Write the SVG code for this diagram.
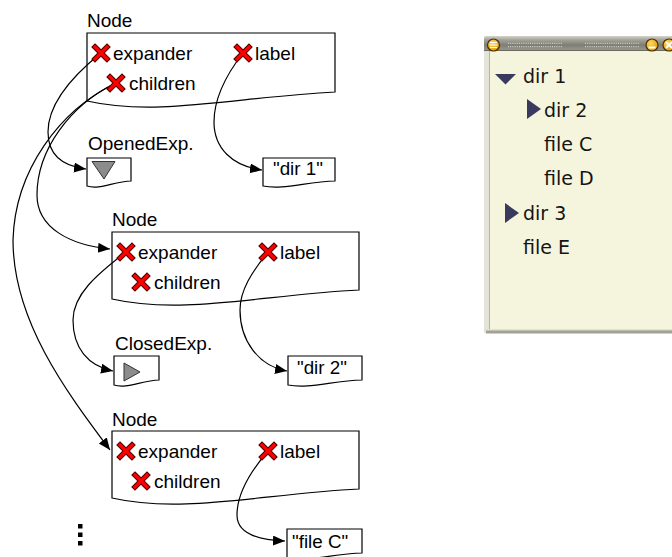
<svg xmlns="http://www.w3.org/2000/svg" width="672" height="557" viewBox="0 0 672 557">
<defs>
<style>
.t{font-family:"Liberation Sans",Arial,sans-serif;font-size:19px;fill:#000}
.q{font-family:"Liberation Sans",Arial,sans-serif;font-size:18.8px;fill:#000}
.box{fill:none;stroke:#000;stroke-width:1.2}
.c{fill:none;stroke:#000;stroke-width:1.2;marker-end:url(#arr)}
.tri{fill:#8c8c8c;stroke:#333;stroke-width:1}
.w{font-family:"DejaVu Sans",sans-serif;font-size:19px;fill:#151515}
.exp{fill:#3a3a5e}
.grip{stroke:#cfcfc6;stroke-width:1.2;stroke-dasharray:1 1.2}
.btn{stroke:#4a3000;stroke-width:1.2}
</style>
<linearGradient id="tb" x1="0" y1="0" x2="0" y2="1">
<stop offset="0" stop-color="#d4d4cc"/>
<stop offset="0.25" stop-color="#a4a49a"/>
<stop offset="0.6" stop-color="#7e7e74"/>
<stop offset="1" stop-color="#9a9a90"/>
</linearGradient>
<radialGradient id="bg" cx="0.4" cy="0.35" r="0.7">
<stop offset="0" stop-color="#ffd860"/>
<stop offset="1" stop-color="#e09a00"/>
</radialGradient>
<linearGradient id="lb" x1="0" y1="0" x2="1" y2="0">
<stop offset="0" stop-color="#e4e4d8"/>
<stop offset="1" stop-color="#c6c6b8"/>
</linearGradient>
<marker id="arr" markerUnits="userSpaceOnUse" markerWidth="13" markerHeight="11" refX="12" refY="5" orient="auto"><path d="M0,0 L12,5 L0,10 Z" fill="#000"/></marker>
<g id="x"><path d="M-6,-6 L6,6 M6,-6 L-6,6" stroke="#500" stroke-width="5.4" stroke-linecap="square" fill="none"/><path d="M-6,-6 L6,6 M6,-6 L-6,6" stroke="#f00" stroke-width="3.2" stroke-linecap="square" fill="none"/></g>
</defs>
<rect width="672" height="557" fill="#fff"/>

<g id="connectors">
<path class="c" d="M101,53 C70,78 48,105 48,132 C48,155 62,166 86,169"/>
<path class="c" d="M116,83 C70,105 37,150 37,195 C37,228 70,245 110,249"/>
<path class="c" d="M116,83 C60,110 15,170 13,240 C13,320 65,390 110,450"/>
<path class="c" d="M243,53 C226,75 214,100 214,122 C214,148 232,166 262,170"/>
<path class="c" d="M126,252 C96,275 73,295 73,320 C73,348 88,366 113,371"/>
<path class="c" d="M268,252 C252,272 240,290 240,310 C240,340 258,366 287,371"/>
<path class="c" d="M268,451 C250,472 237,495 237,515 C237,532 256,540 285,541"/>
</g>

<g id="node1" transform="translate(87,33)">
<text class="t" x="0" y="-6">Node</text>
<path class="box" d="M0,0 H248 V59 C150,64 70,84 0,68 Z"/>
<use href="#x" x="14" y="20"/><text class="t" x="26" y="27">expander</text>
<use href="#x" x="29" y="50"/><text class="t" x="42" y="57">children</text>
<use href="#x" x="156" y="20"/><text class="t" x="168" y="27">label</text>
</g>

<g id="opened" transform="translate(87,158)">
<text class="t" x="1" y="-8">OpenedExp.</text>
<path class="box" d="M0,0 H44 V23 C26,24 12,32 0,28 Z"/>
<path class="tri" d="M5,3.5 H28 L17,21 Z"/>
</g>

<g id="dir1" transform="translate(263,158)">
<path class="box" d="M0,0 H72 V23 C43,24 20,32 0,28 Z"/>
<text class="q" x="10" y="17">"dir 1"</text>
</g>

<g id="node2" transform="translate(112,232)">
<text class="t" x="0" y="-6">Node</text>
<path class="box" d="M0,0 H247 V58 C150,63 70,83 0,67 Z"/>
<use href="#x" x="14" y="20"/><text class="t" x="26" y="27">expander</text>
<use href="#x" x="29" y="50"/><text class="t" x="42" y="57">children</text>
<use href="#x" x="156" y="20"/><text class="t" x="168" y="27">label</text>
</g>

<g id="closed" transform="translate(114,356)">
<text class="t" x="1" y="-6">ClosedExp.</text>
<path class="box" d="M0,0 H45 V24 C27,25 12,33 0,29 Z"/>
<path class="tri" d="M10,7 L26,16 L10,25 Z"/>
</g>

<g id="dir2" transform="translate(288,356)">
<path class="box" d="M0,0 H74 V24 C44,25 21,33 0,29 Z"/>
<text class="q" x="9" y="18">"dir 2"</text>
</g>

<g id="node3" transform="translate(112,431)">
<text class="t" x="0" y="-5">Node</text>
<path class="box" d="M0,0 H247 V58 C150,63 70,83 0,67 Z"/>
<use href="#x" x="14" y="20"/><text class="t" x="26" y="27">expander</text>
<use href="#x" x="29" y="50"/><text class="t" x="42" y="57">children</text>
<use href="#x" x="156" y="20"/><text class="t" x="168" y="27">label</text>
</g>

<g id="fileC" transform="translate(287,529)">
<path class="box" d="M0,0 H75 V24 C45,25 21,33 0,29 Z"/>
<text class="q" x="5" y="19">"file C"</text>
</g>

<g id="ellipsis" fill="#000">
<rect x="78" y="524" width="4.5" height="4.5"/>
<rect x="78" y="532.5" width="4.5" height="4.5"/>
<rect x="78" y="541" width="4.5" height="4.5"/>
</g>

<g id="window">
<rect x="484" y="36" width="190" height="297" fill="url(#lb)"/>
<rect x="489.5" y="51" width="184" height="278" fill="#f5f5de"/>
<line x1="489.5" y1="51" x2="489.5" y2="329" stroke="#b4b4a6" stroke-width="1"/>
<rect x="484" y="329" width="190" height="1.5" fill="#e2e2d4"/>
<rect x="486" y="330.5" width="188" height="3" fill="#a2a294"/>
<path d="M484,51 V39 Q484,36 487,36 H674 V51 Z" fill="url(#tb)"/>
<line x1="484" y1="50.5" x2="674" y2="50.5" stroke="#6a6a60" stroke-width="1"/>
<line class="grip" x1="508" y1="43.3" x2="563" y2="43.3"/>
<line class="grip" x1="508" y1="46.7" x2="563" y2="46.7"/>
<line class="grip" x1="585" y1="43.3" x2="640" y2="43.3"/>
<line class="grip" x1="585" y1="46.7" x2="640" y2="46.7"/>
<circle class="btn" cx="493.5" cy="45" r="6" fill="url(#bg)"/>
<path d="M490,42.5 H497 M489.5,45 H497.5 M490,47.5 H497" stroke="#fff" stroke-width="1.2"/>
<circle class="btn" cx="652" cy="45" r="6" fill="url(#bg)"/>
<path d="M648.5,47.5 H655.5" stroke="#fff" stroke-width="2"/>
<circle class="btn" cx="669" cy="45" r="6" fill="url(#bg)"/>
<path d="M666,42 L672,48 M672,42 L666,48" stroke="#fff" stroke-width="1.8"/>
<path class="exp" d="M495,74 H516 L505.5,84.5 Z"/>
<text class="w" x="523" y="83">dir 1</text>
<path class="exp" d="M527,99 L541,109 L527,119 Z"/>
<text class="w" x="544" y="117">dir 2</text>
<text class="w" x="544" y="151">file C</text>
<text class="w" x="544" y="185">file D</text>
<path class="exp" d="M505,203 L519,213 L505,223 Z"/>
<text class="w" x="523" y="220">dir 3</text>
<text class="w" x="523" y="254">file E</text>
</g>
</svg>
